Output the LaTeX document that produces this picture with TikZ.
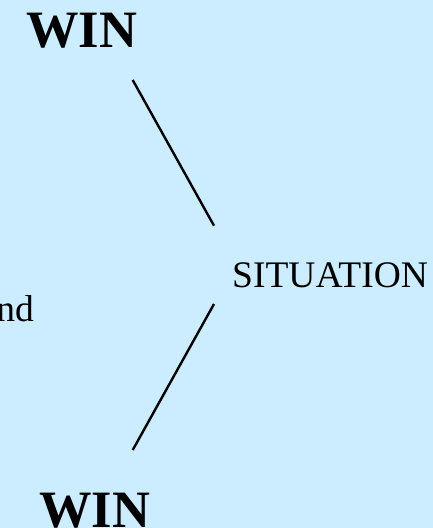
\documentclass[tikz,border=0pt]{standalone}
\usepackage{fontspec}
\setmainfont{Liberation Serif}
\definecolor{bgblue}{RGB}{204,236,255}
\begin{document}
\begin{tikzpicture}[x=1pt,y=-1pt,
  bigword/.style={inner sep=0pt,font=\fontsize{52.5}{52.5}\selectfont\bfseries},
  midword/.style={inner sep=0pt,font=\fontsize{37.5}{37.5}\selectfont},
  link/.style={line width=2.4pt}]
\fill[bgblue] (0,0) rectangle (433,528);
\useasboundingbox (0,0) rectangle (433,528);
\node[bigword,anchor=base west] (win1) at (26,47) {WIN};
\node[bigword,anchor=base west] (win2) at (39,527) {WIN};
\node[midword,anchor=base west] (sit) at (232,287) {SITUATION};
\node[midword,anchor=base east] (frag) at (34,321) {nd};
\coordinate (a1) at (132.7,80);
\coordinate (a2) at (214,225.7);
\coordinate (b1) at (214,304);
\coordinate (b2) at (132.7,450);
\draw[link] (a1) -- (a2);
\draw[link] (b1) -- (b2);
\end{tikzpicture}
\end{document}
